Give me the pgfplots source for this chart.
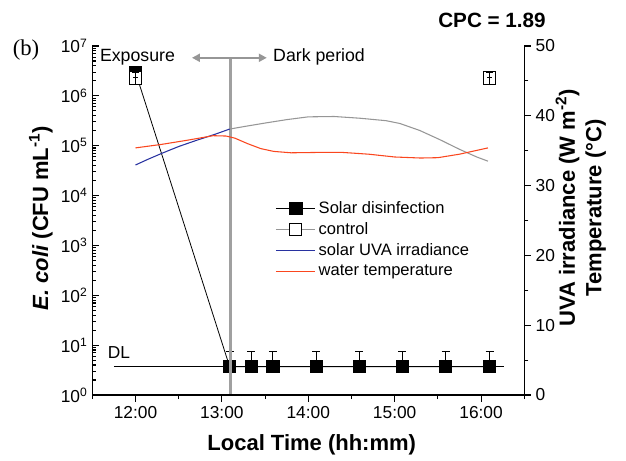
\documentclass[border=0pt]{standalone}
\usepackage{fontspec}
\setmainfont{Liberation Sans}
\newfontfamily\seriffont{Liberation Serif}
\usepackage{pgfplots}
\pgfplotsset{compat=1.18}
\usetikzlibrary{arrows.meta}
\definecolor{uvablue}{RGB}{40,50,160}
\definecolor{tempred}{RGB}{250,70,30}
\definecolor{lgray}{RGB}{150,150,150}
\definecolor{vgray}{RGB}{160,160,160}
\begin{document}
\begin{tikzpicture}
\useasboundingbox (-69.2pt,-49.5pt) rectangle (400.3pt,296.25pt);
\pgfplotsset{
  common/.style={width=324pt,height=261.75pt,scale only axis,at={(0,0)},anchor=south west,
    xmin=11.5,xmax=16.5, clip marker paths=true,
    /pgf/number format/assume math mode=true,
    tick label style={font=\fontsize{13}{15}\selectfont},
    label style={font=\fontsize{16.5}{20}\selectfont\bfseries},
    axis line style={line width=1pt},
    every tick/.style={black,line width=0.8pt},
    major tick length=5pt, minor tick length=3pt}
}
\begin{axis}[common, ymode=log, ymin=1, ymax=1e7,
  axis y line*=left, axis x line=none, tick align=inside,
  ytick={1,10,100,1000,10000,100000,1000000,10000000},
  yticklabels={10\textsuperscript{0},10\textsuperscript{1},10\textsuperscript{2},10\textsuperscript{3},10\textsuperscript{4},10\textsuperscript{5},10\textsuperscript{6},10\textsuperscript{7}},
  minor ytick={2,3,4,5,6,7,8,9,20,30,40,50,60,70,80,90,200,300,400,500,600,700,800,900,2e3,3e3,4e3,5e3,6e3,7e3,8e3,9e3,2e4,3e4,4e4,5e4,6e4,7e4,8e4,9e4,2e5,3e5,4e5,5e5,6e5,7e5,8e5,9e5,2e6,3e6,4e6,5e6,6e6,7e6,8e6,9e6},
  ylabel={\itshape E. coli\upshape{} (CFU mL\textsuperscript{-1})},
  ylabel style={at={(axis description cs:-0.119,0.507)},anchor=center}]
\addplot[black, line width=0.6pt, forget plot] coordinates {(11.75,3.7) (16.26,3.7)};
\addplot[black, line width=0.6pt, mark=square*, mark size=4.6pt, mark options={solid,fill=black},
  error bars/.cd, y dir=plus, y explicit, error bar style={line width=0.6pt},
  error mark options={rotate=90,mark size=3pt,line width=0.6pt}]
  table[y error=e] {
x y e
12.00 3.0e6 0
13.09 3.7 3.7
13.34 3.7 3.7
13.59 3.7 3.7
14.09 3.7 3.7
14.59 3.7 3.7
15.09 3.7 3.7
15.59 3.7 3.7
16.10 3.7 3.7
};
\addplot[only marks, mark=square*, mark size=4.6pt, mark options={fill=white,draw=white}]
  coordinates {(12,2.3e6) (16.1,2.3e6)};
\addplot[only marks, mark=square, mark size=4.6pt, mark options={draw=black,line width=0.6pt},
  error bars/.cd, y dir=both, y explicit, error bar style={black,line width=0.5pt},
  error mark options={rotate=90,mark size=2.5pt,black,line width=0.5pt}]
  table[y error=e] {
x y e
12.0 2.3e6 0.6e6
16.1 2.3e6 0.6e6
};
\addplot[black, line width=0.5pt, forget plot] coordinates {(11.97,2.3e6) (12.03,2.3e6)};
\addplot[black, line width=0.5pt, forget plot] coordinates {(16.07,2.3e6) (16.13,2.3e6)};
\draw[vgray, line width=2pt] (axis cs:13.1,1) -- (axis cs:13.1,5.8e6);
\draw[lgray, line width=1.8pt, {Triangle[length=6pt,width=6pt]}-{Triangle[length=6pt,width=6pt]}] (axis cs:12.654,5.8e6) -- (axis cs:13.52,5.8e6);
\end{axis}
\begin{axis}[common, ymin=0, ymax=50,
  axis y line*=right, axis x line*=bottom, tick align=outside,
  ytick={0,10,20,30,40,50}, minor ytick={5,15,25,35,45},
  xtick={12,13,14,15,16}, xticklabels={12:00,13:00,14:00,15:00,16:00},
  minor xtick={11.5,12.5,13.5,14.5,15.5,16.5},
  xlabel={Local Time (hh:mm)},
  xlabel style={at={(axis description cs:0.508,-0.143)},anchor=center},
  ylabel={UVA irradiance (W m\textsuperscript{-2})\\Temperature (°C)},
  ylabel style={at={(axis description cs:1.131,0.536)},anchor=center,align=center},
  legend style={at={(0.423,0.564)}, anchor=north west, draw=none, fill=none,
    font=\fontsize{12.4}{14}\selectfont, row sep=1.5pt, inner sep=0pt},
  legend cell align=left]
\addplot[lgray, line width=0.8pt, forget plot] coordinates {
(13.09,38.1) (13.3,38.55) (13.52,39.0) (13.75,39.45) (14.0,39.85) (14.3,39.9) (14.6,39.65) (14.9,39.3) (15.06,38.9) (15.29,37.9) (15.52,36.6) (15.75,35.2) (15.95,34.1) (16.08,33.5)};
\addplot[uvablue, line width=0.8pt, forget plot] coordinates {
(12.00,32.95) (12.15,33.8) (12.32,34.7) (12.5,35.6) (12.71,36.5) (12.92,37.35) (13.09,38.1)};
\addplot[tempred, line width=0.8pt, forget plot] coordinates {
(12.0,35.4) (12.3,35.9) (12.6,36.5) (12.9,37.15) (13.05,37.1) (13.15,36.8) (13.3,36.0) (13.45,35.3) (13.6,34.9) (13.8,34.7) (14.1,34.75) (14.4,34.75) (14.7,34.5) (15.0,34.1) (15.3,33.95) (15.5,34.0) (15.75,34.5) (16.08,35.4)};
\addlegendimage{legend image code/.code={\draw[black,line width=0.6pt] (0cm,0cm) -- (1.04cm,0cm); \fill[black] (0.52cm,0cm) +(-4.6pt,-4.6pt) rectangle +(4.6pt,4.6pt);}}
\addlegendentry{Solar disinfection}
\addlegendimage{legend image code/.code={\draw[lgray,line width=0.8pt] (0cm,0cm) -- (1.04cm,0cm); \draw[black,fill=white,line width=0.6pt] (0.52cm,0cm) +(-4.6pt,-4.6pt) rectangle +(4.6pt,4.6pt);}}
\addlegendentry{control}
\addlegendimage{legend image code/.code={\draw[uvablue,line width=1pt] (0cm,0cm) -- (1.04cm,0cm);}}
\addlegendentry{solar UVA irradiance}
\addlegendimage{legend image code/.code={\draw[tempred,line width=1pt] (0cm,0cm) -- (1.04cm,0cm);}}
\addlegendentry{water temperature}
\end{axis}
\node[font=\seriffont\fontsize{17}{20}\selectfont] at (-49.7pt,258.75pt) {(b)};
\node[font=\bfseries\fontsize{15.5}{18}\selectfont] at (299.8pt,281.25pt) {CPC = 1.89};
\node[font=\fontsize{13.3}{16}\selectfont] at (33.9pt,253.5pt) {Exposure};
\node[font=\fontsize{13.3}{16}\selectfont, anchor=west, inner sep=0pt] at (135.5pt,253.5pt) {Dark period};
\node[font=\fontsize{13}{15}\selectfont] at (20pt,31.5pt) {DL};
\end{tikzpicture}
\end{document}
